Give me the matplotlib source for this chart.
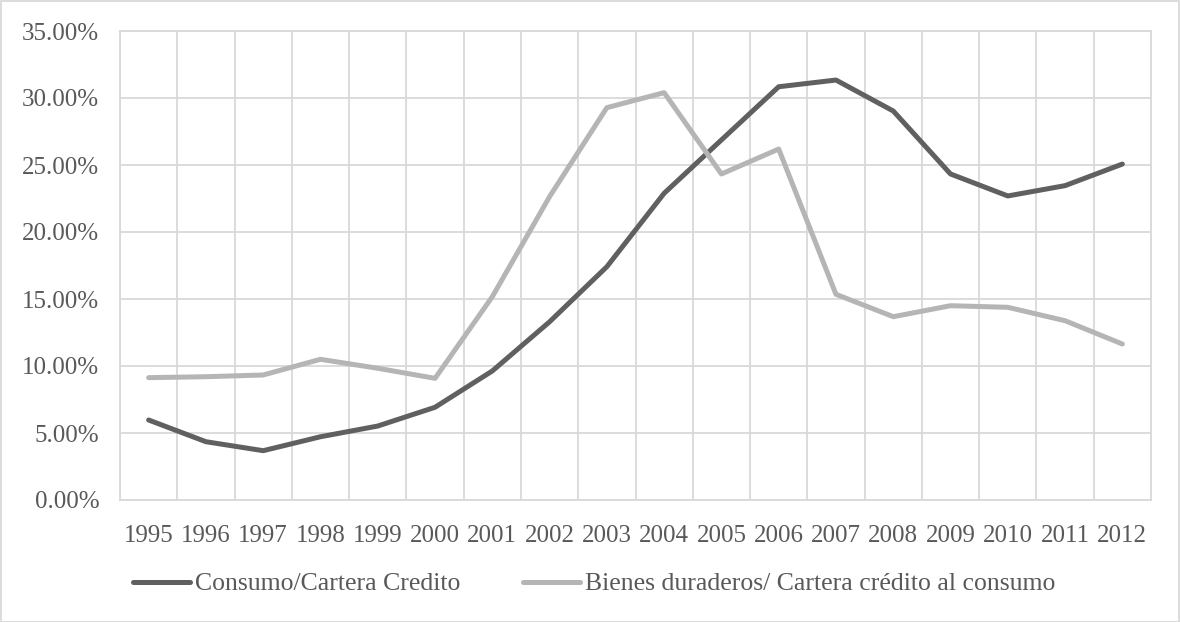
import matplotlib
matplotlib.use("Agg")
import matplotlib.pyplot as plt
from matplotlib.lines import Line2D
from matplotlib.patches import Rectangle
from matplotlib.ticker import FuncFormatter, MultipleLocator
import numpy as np

years = ["1995", "1996", "1997", "1998", "1999", "2000", "2001", "2002", "2003",
         "2004", "2005", "2006", "2007", "2008", "2009", "2010", "2011", "2012"]

consumo_cartera = [5.97, 4.35, 3.68, 4.72, 5.52, 6.92, 9.63, 13.30, 17.41,
                   22.89, 26.87, 30.84, 31.34, 29.03, 24.33, 22.69, 23.46, 25.07]

bienes_duraderos = [9.13, 9.20, 9.33, 10.50, 9.83, 9.08, 15.17, 22.64, 29.28,
                    30.40, 24.33, 26.19, 15.35, 13.68, 14.50, 14.38, 13.38, 11.64]

series_labels = ["Consumo/Cartera Credito",
                 "Bienes duraderos/ Cartera crédito al consumo"]

DARK = "#606060"
LIGHT = "#b5b5b5"
GRID = "#d9d9d9"
TEXT = "#595959"
FONT = ["Liberation Serif", "DejaVu Serif"]

plt.rcParams["font.family"] = FONT

W, H = 1180, 622
fig = plt.figure(figsize=(W / 100, H / 100), dpi=100)
fig.patch.set_facecolor("white")

# chart-area border
fig.add_artist(Rectangle((0.5 / W, 0.5 / H), 1 - 1.5 / W, 1 - 1.5 / H,
                         transform=fig.transFigure, fill=False,
                         edgecolor=GRID, linewidth=1.3))

left, right, top, bottom = 120, 1151, 31, 500
ax = fig.add_axes([left / W, 1 - bottom / H, (right - left) / W, (bottom - top) / H])

x = np.arange(len(years))
ax.plot(x, consumo_cartera, color=DARK, linewidth=3.6, solid_capstyle="round",
        solid_joinstyle="round", label=series_labels[0], zorder=3)
ax.plot(x, bienes_duraderos, color=LIGHT, linewidth=3.6, solid_capstyle="round",
        solid_joinstyle="round", label=series_labels[1], zorder=3)

ax.set_xlim(-0.5, len(years) - 0.5)
ax.set_ylim(0, 35)
ax.yaxis.set_major_locator(MultipleLocator(5))
ax.yaxis.set_major_formatter(FuncFormatter(lambda v, _: f"{v:.2f}%"))
ax.set_xticks(x)
ax.set_xticklabels(years)
ax.set_xticks(np.arange(-0.5, len(years), 1.0), minor=True)

ax.grid(True, which="major", axis="y", color=GRID, linewidth=1.3)
ax.grid(True, which="minor", axis="x", color=GRID, linewidth=1.3)
ax.grid(False, which="major", axis="x")
ax.set_axisbelow(True)
for s in ax.spines.values():
    s.set_color(GRID)
    s.set_linewidth(1.3)

ax.tick_params(axis="both", which="both", length=0, colors=TEXT, labelsize=18)
ax.tick_params(axis="y", pad=15)
ax.tick_params(axis="x", pad=18)

handles = [Line2D([], [], color=DARK, linewidth=3.6, solid_capstyle="round"),
           Line2D([], [], color=LIGHT, linewidth=3.6, solid_capstyle="round")]
leg = fig.legend(handles, series_labels, loc="center",
                 bbox_to_anchor=(594.5 / W, 1 - 584 / H), ncol=2, frameon=False,
                 fontsize=18.5, handlelength=2.2, handletextpad=0.2,
                 columnspacing=2.45, borderpad=0, borderaxespad=0)
for t in leg.get_texts():
    t.set_color(TEXT)

fig.savefig("out.png", dpi=100, facecolor="white")
